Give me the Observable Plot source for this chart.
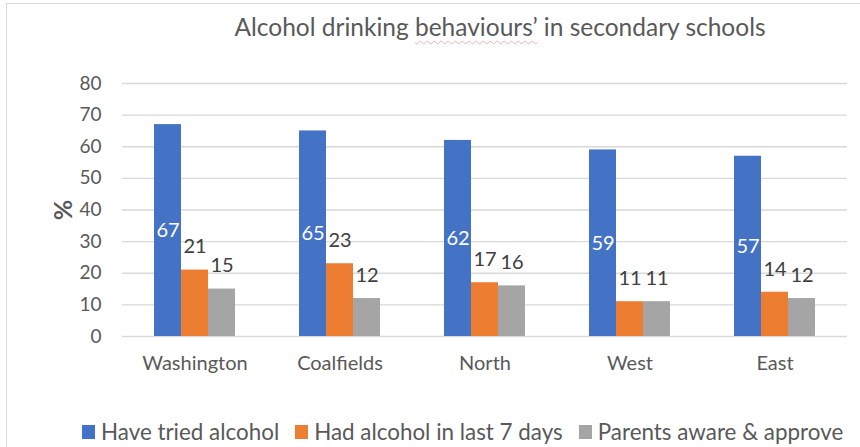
<!DOCTYPE html>
<html>
<head>
<meta charset="utf-8">
<script src="https://cdn.jsdelivr.net/npm/d3@7"></script>
<script src="https://cdn.jsdelivr.net/npm/@observablehq/plot@0.6"></script>
<style>
  html, body { margin: 0; padding: 0; background: #fff; width: 860px; height: 447px; overflow: hidden; }
  body { position: relative; font-family: Lato, "Open Sans", sans-serif; color: #595959; }
  #frame { position: absolute; left: 6px; top: 3px; width: 900px; height: 500px; border: 1px solid #d9d9d9; box-sizing: border-box; }
  #title { position: absolute; left: 0; width: 1000px; top: 12px; text-align: center; font-size: 24.5px; color: #595959; white-space: nowrap; }
  #title .sp { text-decoration: underline wavy rgba(235,120,120,0.55); text-decoration-thickness: 1px; text-underline-offset: 4px; }
  #chart { position: absolute; left: 0; top: 0; }
  #legend { position: absolute; left: 82px; top: 418px; display: flex; align-items: center; font-size: 22.4px; color: #595959; white-space: nowrap; }
  #legend .item { display: flex; align-items: center; margin-right: 16px; }
  #legend .sw { width: 13px; height: 14px; margin-right: 6px; }
  [aria-label="y-axis label"] text, g[aria-label="y-axis label"] { font-weight: bold; font-size: 25px; fill: #595959; }
  [aria-label="fx-axis tick label"] text, g[aria-label="fx-axis tick label"] { font-size: 20px; }
</style>
</head>
<body>
<div id="frame"></div>
<div id="chart"></div>
<div id="title">Alcohol drinking <span class="sp">behaviours’</span> in secondary schools</div>
<div id="legend"></div>
<script>
const categories = ["Washington", "Coalfields", "North", "West", "East"];
const seriesNames = ["Have tried alcohol", "Had alcohol in last 7 days", "Parents aware & approve"];
const triedAlcohol = [67, 65, 62, 59, 57];
const last7Days = [21, 23, 17, 11, 14];
const parentsApprove = [15, 12, 16, 11, 12];
const yTicks = [0, 10, 20, 30, 40, 50, 60, 70, 80];
const colors = ["#4472C4", "#ED7D31", "#A5A5A5"];

const seriesValues = [triedAlcohol, last7Days, parentsApprove];
const data = [];
categories.forEach((c, i) => {
  seriesNames.forEach((s, j) => data.push({category: c, series: s, value: seriesValues[j][i]}));
});
const first = data.filter(d => d.series === seriesNames[0]);
const others = data.filter(d => d.series !== seriesNames[0]);

const chart = Plot.plot({
  width: 860,
  height: 380,
  marginLeft: 122,
  marginRight: 13,
  marginTop: 83,
  marginBottom: 44,
  style: {fontFamily: "Lato, 'Open Sans', sans-serif", fontSize: "19px", color: "#595959", background: "transparent", overflow: "visible"},
  fx: {domain: categories, padding: 0, label: null, tickSize: 0, tickPadding: 19, axis: "bottom"},
  x: {domain: seriesNames, paddingInner: 0, paddingOuter: 1.09, axis: null},
  y: {domain: [0, 80], ticks: yTicks, tickSize: 0, tickPadding: 21, label: "%", labelArrow: false, labelAnchor: "center", labelOffset: 68},
  color: {domain: seriesNames, range: colors},
  marks: [
    Plot.ruleY(yTicks, {stroke: "#d9d9d9", strokeWidth: 1.3, strokeOpacity: 1}),
    Plot.barY(data, {fx: "category", x: "series", y: "value", fill: "series"}),
    Plot.text(first, {fx: "category", x: "series", y: d => d.value / 2, text: d => String(d.value), fill: "white", fontSize: 20}),
    Plot.text(others, {fx: "category", x: "series", y: "value", text: d => String(d.value), fill: "#404040", fontSize: 20, dy: -23})
  ]
});
document.getElementById("chart").appendChild(chart);

const legend = document.getElementById("legend");
seriesNames.forEach((s, i) => {
  const item = document.createElement("div");
  item.className = "item";
  const sw = document.createElement("div");
  sw.className = "sw";
  sw.style.background = colors[i];
  const t = document.createElement("span");
  t.textContent = s;
  item.appendChild(sw);
  item.appendChild(t);
  legend.appendChild(item);
});
</script>
</body>
</html>
